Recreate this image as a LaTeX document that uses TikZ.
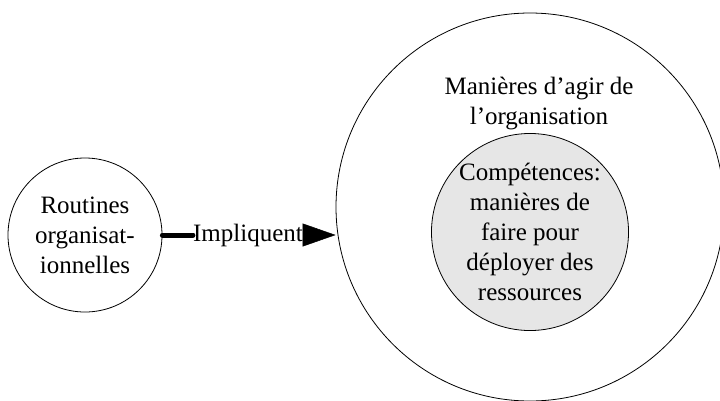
\documentclass[tikz,border=0pt]{standalone}
\usepackage{fontspec}
\setmainfont{Liberation Serif}
\usetikzlibrary{arrows.meta}

\begin{document}
\begin{tikzpicture}[
            x = 1pt, y = -1pt,
            every node/.style={font=\fontsize{25}{30}\selectfont, align=center, inner sep=0pt},
            ring/.style={circle, draw, line width = .8pt},
            link/.style={line width = 5pt, line cap=round},
            tip/.style={-{Triangle[length=33pt, width=23pt]}, line width = .5pt},
            ]
        \useasboundingbox (0,0) rectangle (720,400);
        \clip (0,0) rectangle (720,400);

        \node[ring, minimum size=388pt] (manieres) at (530,207) {};
        \node[ring, minimum size=194pt, fill={rgb,255:red,230;green,230;blue,230}] (competences) at (530,232)
            {Compétences:\\manières de\\faire pour\\déployer des\\ressources};
        \node (manierestext) at (539,104) {Manières d’agir de\\l’organisation};
        \node[ring, minimum size=154pt] (routines) at (85,235) {Routines\\organisat-\\ionnelles};
        \node (impl) at (248,235) {Impliquent};

        \draw[link] (routines.east) -- (routines.east -| impl.west);
        \draw[tip] (impl.east) -- (manieres.west |- impl.east);
    \end{tikzpicture}
\end{document}
